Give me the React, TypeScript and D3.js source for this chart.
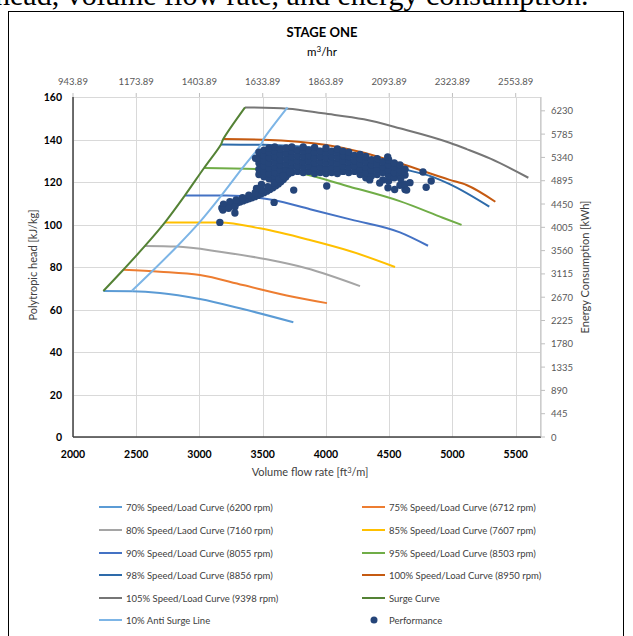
import React from 'react'
import * as d3 from 'd3'

// axis ticks
const flowTicks = [2000, 2500, 3000, 3500, 4000, 4500, 5000, 5500]
const headTicks = [0, 20, 40, 60, 80, 100, 120, 140, 160]
const m3Ticks = [943.89, 1173.89, 1403.89, 1633.89, 1863.89, 2093.89, 2323.89, 2553.89]
const energyTicks = [0, 445, 890, 1335, 1780, 2225, 2670, 3115, 3560, 4005, 4450, 4895, 5340, 5785, 6230]

// speed/load curves [flow ft3/m, head kJ/kg]
const curve70 = [[2240, 68.7], [2464, 68.6], [2687, 67.8], [3003, 64.9], [3343, 60.2], [3742, 54.0]]
const curve75 = [[2398, 78.7], [2687, 77.8], [3003, 76.2], [3343, 71.5], [3738, 66.0], [4008, 63.0]]
const curve80 = [[2569, 89.9], [2819, 89.6], [3161, 87.2], [3530, 83.6], [3846, 79.4], [4269, 71.0]]
const curve85 = [[2727, 101.0], [3161, 100.9], [3477, 98.2], [3872, 92.7], [4200, 87.3], [4546, 80.0]]
const curve90 = [[2885, 113.7], [3214, 113.6], [3584, 111.5], [3874, 107.2], [4200, 102.3], [4585, 96.3], [4807, 90.0]]
const curve95 = [[3036, 126.6], [3477, 126.0], [3793, 124.1], [4188, 117.8], [4583, 111.0], [4923, 103.2], [5072, 99.8]]
const curve98 = [[3170, 137.7], [3504, 137.5], [3874, 136.3], [4200, 132.5], [4583, 126.5], [4848, 122.3], [4978, 119.0], [5291, 108.4]]
const curve100 = [[3188, 140.2], [3504, 139.9], [4006, 137.4], [4300, 133.8], [4583, 128.8], [4978, 121.0], [5111, 118.6], [5339, 110.7]]
const curve105 = [[3360, 155.1], [3700, 154.5], [3977, 152.3], [4300, 149.5], [4583, 145.3], [4978, 138.5], [5112, 135.5], [5300, 131.0], [5600, 122.0]]
const surgeCurve = [[2240, 68.7], [2398, 78.7], [2569, 89.9], [2727, 101.0], [2885, 113.7], [3036, 126.6], [3170, 137.7], [3188, 140.2], [3360, 155.1]]
const antiSurge = [[2464, 68.7], [2638, 78.7], [2826, 89.9], [3000, 101.0], [3174, 113.7], [3340, 126.6], [3487, 137.7], [3507, 140.2], [3696, 155.1]]

// performance points, main cluster read column by column
const perfColumns: [number, number[]][] = [
  [3470, [123.5, 126, 129, 131.5, 134]],
  [3510, [122.5, 125, 127.5, 130, 132.5, 135]],
  [3550, [121.5, 124, 126.5, 129, 131.5, 134, 136]],
  [3595, [122, 124.5, 127, 129.5, 132, 134.5, 136.5]],
  [3640, [123, 125.5, 128, 130.5, 133, 135.5]],
  [3685, [123.5, 126, 128.5, 131, 133.5, 136]],
  [3730, [124.5, 127, 129.5, 132, 134.5, 136.5]],
  [3775, [125, 127.5, 130, 132.5, 135]],
  [3820, [124.5, 127, 129.5, 132, 134.5, 136.5]],
  [3865, [125, 127.5, 130, 132.5, 135]],
  [3910, [124, 126.5, 129, 131.5, 134, 136.3]],
  [3955, [124.5, 127, 129.5, 132, 134.5]],
  [4000, [124, 126.5, 129, 131.5, 134, 136]],
  [4045, [124.5, 127, 129.5, 132, 134.5]],
  [4090, [124, 126.5, 129, 131.5, 134, 135.5]],
  [4135, [125, 127.5, 130, 132.5, 134.5]],
  [4180, [124.5, 127, 129.5, 132, 134]],
  [4225, [125, 127.5, 130, 132.5]],
  [4270, [123.5, 126, 128.5, 131, 133]],
  [4315, [122, 124.5, 127, 129.5, 132]],
  [4360, [123, 125.5, 128, 130.5]],
  [4405, [123.5, 126, 128.5, 131]],
  [4450, [121, 124.5, 127, 129.5]],
  [4495, [120.5, 123, 125.5, 128, 130.5]],
  [4540, [122, 124.5, 127, 129]],
  [4585, [118.5, 123, 125.5, 128]],
  [4625, [116.5, 119, 123.3, 126]],
]
const perfTail = [
  [3177, 107.8], [3200, 108.3], [3224, 108.7], [3248, 109.2], [3272, 109.6], [3296, 110.1], [3319, 110.6],
  [3343, 111.1], [3367, 111.6], [3390, 112.1], [3414, 112.6], [3438, 113.1], [3461, 113.7], [3485, 114.3],
  [3509, 115.0], [3532, 115.7], [3556, 116.5], [3580, 117.3], [3603, 118.2], [3623, 119.1], [3643, 120.1],
  [3663, 121.2], [3682, 122.4], [3700, 123.6], [3714, 124.8],
  [3190, 109.6], [3240, 110.7], [3290, 111.6], [3340, 112.6], [3390, 113.8], [3440, 115.0], [3490, 116.4],
  [3540, 117.8], [3590, 119.5], [3630, 121.3], [3660, 123.0],
  [3185, 106.8], [3230, 107.6], [3280, 108.4], [3490, 118.8],
]
const perfOutliers = [
  [3443, 131.2], [3451, 117.0], [3280, 105.4], [3161, 101.0], [3745, 116.2], [3590, 110.4], [4006, 118.1],
  [4488, 131.8], [4767, 124.7], [4832, 120.5], [4792, 117.5], [4638, 116.2], [4664, 119.7], [4591, 121.5],
  [4543, 116.5], [4425, 119.5], [4346, 121.0], [4490, 117.3],
]

const legendItems = [
  { name: '70% Speed/Load Curve (6200 rpm)', color: '#5B9BD5', data: curve70 },
  { name: '75% Speed/Load Curve (6712 rpm)', color: '#ED7D31', data: curve75 },
  { name: '80% Speed/Laod Curve (7160 rpm)', color: '#A5A5A5', data: curve80 },
  { name: '85% Speed/Load Curve (7607 rpm)', color: '#FFC000', data: curve85 },
  { name: '90% Speed/Load Curve (8055 rpm)', color: '#4472C4', data: curve90 },
  { name: '95% Speed/Load Curve (8503 rpm)', color: '#70AD47', data: curve95 },
  { name: '98% Speed/Load Curve (8856 rpm)', color: '#2E6BAA', data: curve98 },
  { name: '100% Speed/Load Curve (8950 rpm)', color: '#C55A11', data: curve100 },
  { name: '105% Speed/Load Curve (9398 rpm)', color: '#767676', data: curve105 },
  { name: 'Surge Curve', color: '#548235', data: surgeCurve },
  { name: '10% Anti Surge Line', color: '#7DB5E6', data: antiSurge },
  { name: 'Performance', color: '#254579', data: null },
]

const font = 'Lato, "Open Sans", sans-serif'

export default function App() {
  const x = d3.scaleLinear().domain([2000, 5700]).range([73, 541])
  const y = d3.scaleLinear().domain([0, 160]).range([437, 97])
  const xTop = d3.scaleLinear().domain([943.89, 2645.89]).range([73, 541])
  const yRight = d3.scaleLinear().domain([0, 6494]).range([437, 97])

  const smooth = d3.line<number[]>().x(d => x(d[0])).y(d => y(d[1])).curve(d3.curveMonotoneX)
  const straight = d3.line<number[]>().x(d => x(d[0])).y(d => y(d[1])).curve(d3.curveCatmullRom)

  const perf: number[][] = []
  perfColumns.forEach(([f, hs]) => hs.forEach(h => perf.push([f, h])))
  perfTail.forEach(p => perf.push(p))
  perfOutliers.forEach(p => perf.push(p))

  const legendRows = [507, 530, 553, 575, 598, 620]

  return (
    <div style={{ position: 'absolute', left: 0, top: 0 }}>
      <svg width={633} height={636} style={{ display: 'block', background: '#fff' }}>
        <text x={-5} y={5} fontFamily='"Liberation Serif", "Times New Roman", serif' fontSize={30} fill="#000">
          head, volume flow rate, and energy consumption.
        </text>
        <rect x={8.5} y={11.5} width={615} height={640} fill="none" stroke="#000" strokeWidth={1} />

        <text x={322} y={37} textAnchor="middle" fontFamily={font} fontWeight="bold" fontSize={13} fill="#000">STAGE ONE</text>
        <text x={322} y={56} textAnchor="middle" fontFamily={font} fontSize={11.5} fill="#000">
          m<tspan dy={-4} fontSize={8}>3</tspan><tspan dy={4}>/hr</tspan>
        </text>

        {/* grid */}
        <g stroke="#d9d9d9" strokeWidth={1}>
          {headTicks.map(t => (
            <line key={'h' + t} x1={73} x2={541} y1={Math.round(y(t)) + 0.5} y2={Math.round(y(t)) + 0.5} />
          ))}
          {flowTicks.map(t => (
            <line key={'v' + t} x1={Math.round(x(t)) + 0.5} x2={Math.round(x(t)) + 0.5} y1={97} y2={437} />
          ))}
          <line x1={540.5} x2={540.5} y1={97} y2={437} />
        </g>

        {/* curves */}
        {legendItems.slice(0, 9).map(s => (
          <path key={s.name} d={smooth(s.data as number[][]) || ''} fill="none" stroke={s.color} strokeWidth={2} />
        ))}
        <path d={straight(surgeCurve) || ''} fill="none" stroke="#548235" strokeWidth={2} />
        <path d={straight(antiSurge) || ''} fill="none" stroke="#7DB5E6" strokeWidth={2} />

        {/* performance */}
        <g fill="#254579">
          {perf.map((p, i) => (
            <circle key={i} cx={x(p[0])} cy={y(p[1])} r={3.7} />
          ))}
        </g>

        {/* axes */}
        <line x1={73} x2={73} y1={97} y2={437} stroke="#404040" strokeWidth={1.5} />
        <line x1={73} x2={541} y1={437} y2={437} stroke="#404040" strokeWidth={1.5} />
        <line x1={541} x2={541} y1={97} y2={437} stroke="#bfbfbf" strokeWidth={1} />
        <g fontFamily={font} fontSize={10.5} fontWeight="bold" fill="#000">
          {headTicks.map(t => (
            <text key={t} x={62} y={y(t) + 4} textAnchor="end">{t}</text>
          ))}
          {flowTicks.map(t => (
            <text key={t} x={x(t)} y={458} textAnchor="middle">{t}</text>
          ))}
        </g>
        <g fontFamily={font} fontSize={9.5} fill="#595959">
          {energyTicks.map(t => (
            <g key={t}>
              <line x1={541} x2={545} y1={yRight(t)} y2={yRight(t)} stroke="#bfbfbf" />
              <text x={551} y={yRight(t) + 3.5}>{t}</text>
            </g>
          ))}
          {m3Ticks.map(t => (
            <g key={t}>
              <line x1={xTop(t)} x2={xTop(t)} y1={97} y2={93} stroke="#bfbfbf" />
              <text x={xTop(t)} y={85} textAnchor="middle">{t.toFixed(2)}</text>
            </g>
          ))}
        </g>

        <text x={310} y={476} textAnchor="middle" fontFamily={font} fontSize={11} fill="#404040">
          Volume flow rate [ft<tspan dy={-3.5} fontSize={7.5}>3</tspan><tspan dy={3.5}>/m]</tspan>
        </text>
        <text transform="translate(37,265) rotate(-90)" textAnchor="middle" fontFamily={font} fontSize={11} fill="#404040">
          Polytropic head [kJ/kg]
        </text>
        <text transform="translate(589,267) rotate(-90)" textAnchor="middle" fontFamily={font} fontSize={11} fill="#404040">
          Energy Consumption [kWh]
        </text>

        {/* legend */}
        <g fontFamily={font} fontSize={9.5} fill="#404040">
          {legendItems.map((s, i) => {
            const col = i % 2
            const row = Math.floor(i / 2)
            const lx = col === 0 ? 99 : 362
            const ly = legendRows[row]
            return (
              <g key={s.name}>
                {s.data ? (
                  <line x1={lx} x2={lx + 23} y1={ly} y2={ly} stroke={s.color} strokeWidth={2} />
                ) : (
                  <circle cx={lx + 12} cy={ly} r={3.5} fill={s.color} />
                )}
                <text x={lx + 27} y={ly + 3.5}>{s.name}</text>
              </g>
            )
          })}
        </g>
      </svg>
    </div>
  )
}
